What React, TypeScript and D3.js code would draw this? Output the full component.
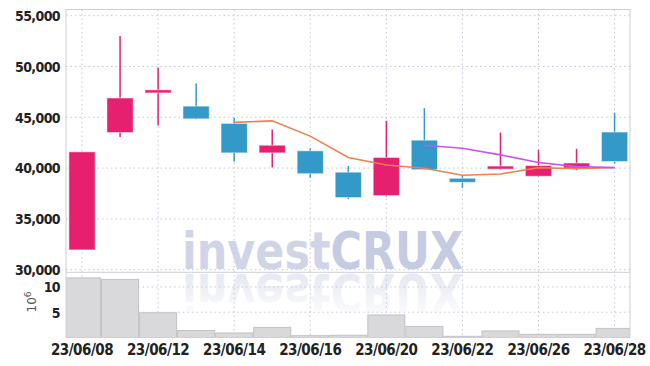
import React from 'react';
import * as d3 from 'd3';

// trading days, June 2023
const dates = ['23/06/08', '23/06/09', '23/06/12', '23/06/13', '23/06/14', '23/06/15', '23/06/16', '23/06/19',
  '23/06/20', '23/06/21', '23/06/22', '23/06/23', '23/06/26', '23/06/27', '23/06/28'];
const opens = [31950, 43500, 47400, 46100, 44400, 41500, 41700, 39600, 37300, 42750, 39000, 39900, 39200, 40000, 43550];
const highs = [41600, 53000, 49900, 48350, 44950, 43800, 41950, 40200, 44650, 45900, 39300, 43500, 41800, 41900, 45450];
const lows = [31950, 43050, 44200, 44800, 40650, 40050, 39050, 36950, 37200, 39850, 38050, 39850, 39150, 39800, 40450];
const closes = [41600, 46900, 47700, 44850, 41500, 42250, 39450, 37100, 41050, 39850, 38600, 40200, 40250, 40500, 40650];
// volume in millions
const volumes = [11.8, 11.5, 4.9, 1.4, 0.9, 2.0, 0.36, 0.44, 4.45, 2.2, 0.24, 1.3, 0.63, 0.63, 1.8];
const ma5 = [null, null, null, null, 44500, 44650, 43150, 41050, 40300, 39980, 39300, 39420, 40050, 39930, 40060];
const ma10 = [null, null, null, null, null, null, null, null, null, 42250, 41950, 41300, 40550, 40150, 40050];

const priceTicks = [30000, 35000, 40000, 45000, 50000, 55000];
const volumeTicks = [5, 10];
const labelDates = ['23/06/08', '23/06/12', '23/06/14', '23/06/16', '23/06/20', '23/06/22', '23/06/26', '23/06/28'];

const UP = '#e6206f';
const DOWN = '#3399c8';
const GRID = '#c3c9dd';
const FONT = '"DejaVu Sans Condensed", "DejaVu Sans", sans-serif';

const App = () => {
  const width = 650;
  const height = 366;
  const left = 66, right = 630, top = 9.5, mid = 272.3, bottom = 337.5;

  const x = d3.scaleBand<string>().domain(dates).range([63, 633.6]).padding(0);
  const bw = x.bandwidth();
  const cx = (d: string) => (x(d) as number) + bw / 2;

  const y = d3.scaleLinear().domain([29745, 55610]).range([mid, top]);
  const yv = d3.scaleLinear().domain([0, 12.9]).range([bottom, mid]);

  const lineGen = d3.line<number | null>()
    .defined(d => d != null)
    .x((d, i) => cx(dates[i]))
    .y(d => y(d as number));

  const bodyW = bw * 0.69;
  const labelStyle = { fontStretch: 'condensed' as const };

  return (
    <svg width={width} height={height} style={{ position: 'absolute', left: 0, top: 0, background: '#fff' }}>
      <defs>
        <clipPath id="plot">
          <rect x={left} y={top} width={right - left} height={bottom - top} />
        </clipPath>
        <linearGradient id="refl" x1="0" y1="0" x2="0" y2="1">
          <stop offset="0" stopColor="#dfe3ef" stopOpacity={0} />
          <stop offset="1" stopColor="#dfe3ef" stopOpacity={1} />
        </linearGradient>
      </defs>

      {/* watermark */}
      <text x={182} y={268.5} fontFamily='"DejaVu Sans", sans-serif' fontWeight="bold" fontSize={52}
        textLength={281} lengthAdjust="spacingAndGlyphs">
        <tspan fill="#cfd5e7">invest</tspan><tspan fill="#c4cbe2">CRUX</tspan>
      </text>
      <g transform="translate(0,542) scale(1,-1)">
        <text x={182} y={268.5} fontFamily='"DejaVu Sans", sans-serif' fontWeight="bold" fontSize={52}
          textLength={281} lengthAdjust="spacingAndGlyphs" fill="url(#refl)">
          investCRUX
        </text>
      </g>

      {/* grid */}
      {priceTicks.map(t => (
        <line key={t} x1={left} x2={right} y1={y(t)} y2={y(t)} stroke={GRID} strokeDasharray="1.5,3" />
      ))}
      {volumeTicks.map(t => (
        <line key={'v' + t} x1={left} x2={right} y1={yv(t)} y2={yv(t)} stroke={GRID} strokeDasharray="1.5,3" />
      ))}
      {labelDates.map(d => (
        <line key={d} x1={cx(d)} x2={cx(d)} y1={top} y2={bottom} stroke={GRID} strokeDasharray="1.5,3" />
      ))}

      {/* volume */}
      <g clipPath="url(#plot)">
        {dates.map((d, i) => (
          <rect key={d} x={(x(d) as number) + 0.5} y={yv(volumes[i])} width={bw - 1}
            height={bottom - yv(volumes[i])} fill="#d9d9dc" stroke="#c2c2c6" strokeWidth={1} />
        ))}
      </g>

      {/* frame */}
      <rect x={left} y={top} width={right - left} height={bottom - top} fill="none" stroke="#cfcfd4" />
      <line x1={left} x2={right} y1={mid} y2={mid} stroke="#cfcfd4" />

      {/* candles */}
      {dates.map((d, i) => {
        const up = closes[i] >= opens[i];
        const c = up ? UP : DOWN;
        const yt = y(Math.max(opens[i], closes[i]));
        const yb = y(Math.min(opens[i], closes[i]));
        return (
          <g key={d}>
            <line x1={cx(d)} x2={cx(d)} y1={y(highs[i])} y2={y(lows[i])} stroke={c} strokeWidth={1.5} />
            <rect x={cx(d) - bodyW / 2} y={yt} width={bodyW} height={Math.max(2, yb - yt)}
              fill={c} stroke="#fff" strokeOpacity={0.5} strokeWidth={1} />
          </g>
        );
      })}

      {/* moving averages */}
      <path d={lineGen(ma5) || ''} fill="none" stroke="#ef8050" strokeWidth={1.6} />
      <path d={lineGen(ma10) || ''} fill="none" stroke="#c955ef" strokeWidth={1.6} />

      {/* y labels */}
      {priceTicks.map(t => (
        <text key={t} x={60} y={y(t)} dy="0.38em" textAnchor="end" fontFamily={FONT} fontWeight="bold"
          fontSize={14} letterSpacing={-0.6} fill="#222" style={labelStyle}>
          {d3.format(',')(t)}
        </text>
      ))}
      {volumeTicks.map(t => (
        <text key={'vl' + t} x={60} y={yv(t)} dy="0.38em" textAnchor="end" fontFamily={FONT} fontWeight="bold"
          fontSize={14} letterSpacing={-0.6} fill="#222" style={labelStyle}>
          {t}
        </text>
      ))}
      <text transform="translate(36,302) rotate(-90)" textAnchor="middle" fontFamily='"DejaVu Sans", sans-serif'
        fontSize={12} fill="#555">
        10<tspan dy="-5" fontSize={9}>6</tspan>
      </text>

      {/* x labels */}
      {labelDates.map(d => (
        <text key={'xl' + d} x={cx(d)} y={354.5} textAnchor="middle" fontFamily={FONT} fontWeight="bold"
          fontSize={15} letterSpacing={-0.5} fill="#222" style={labelStyle}>
          {d}
        </text>
      ))}
    </svg>
  );
};

export default App;
